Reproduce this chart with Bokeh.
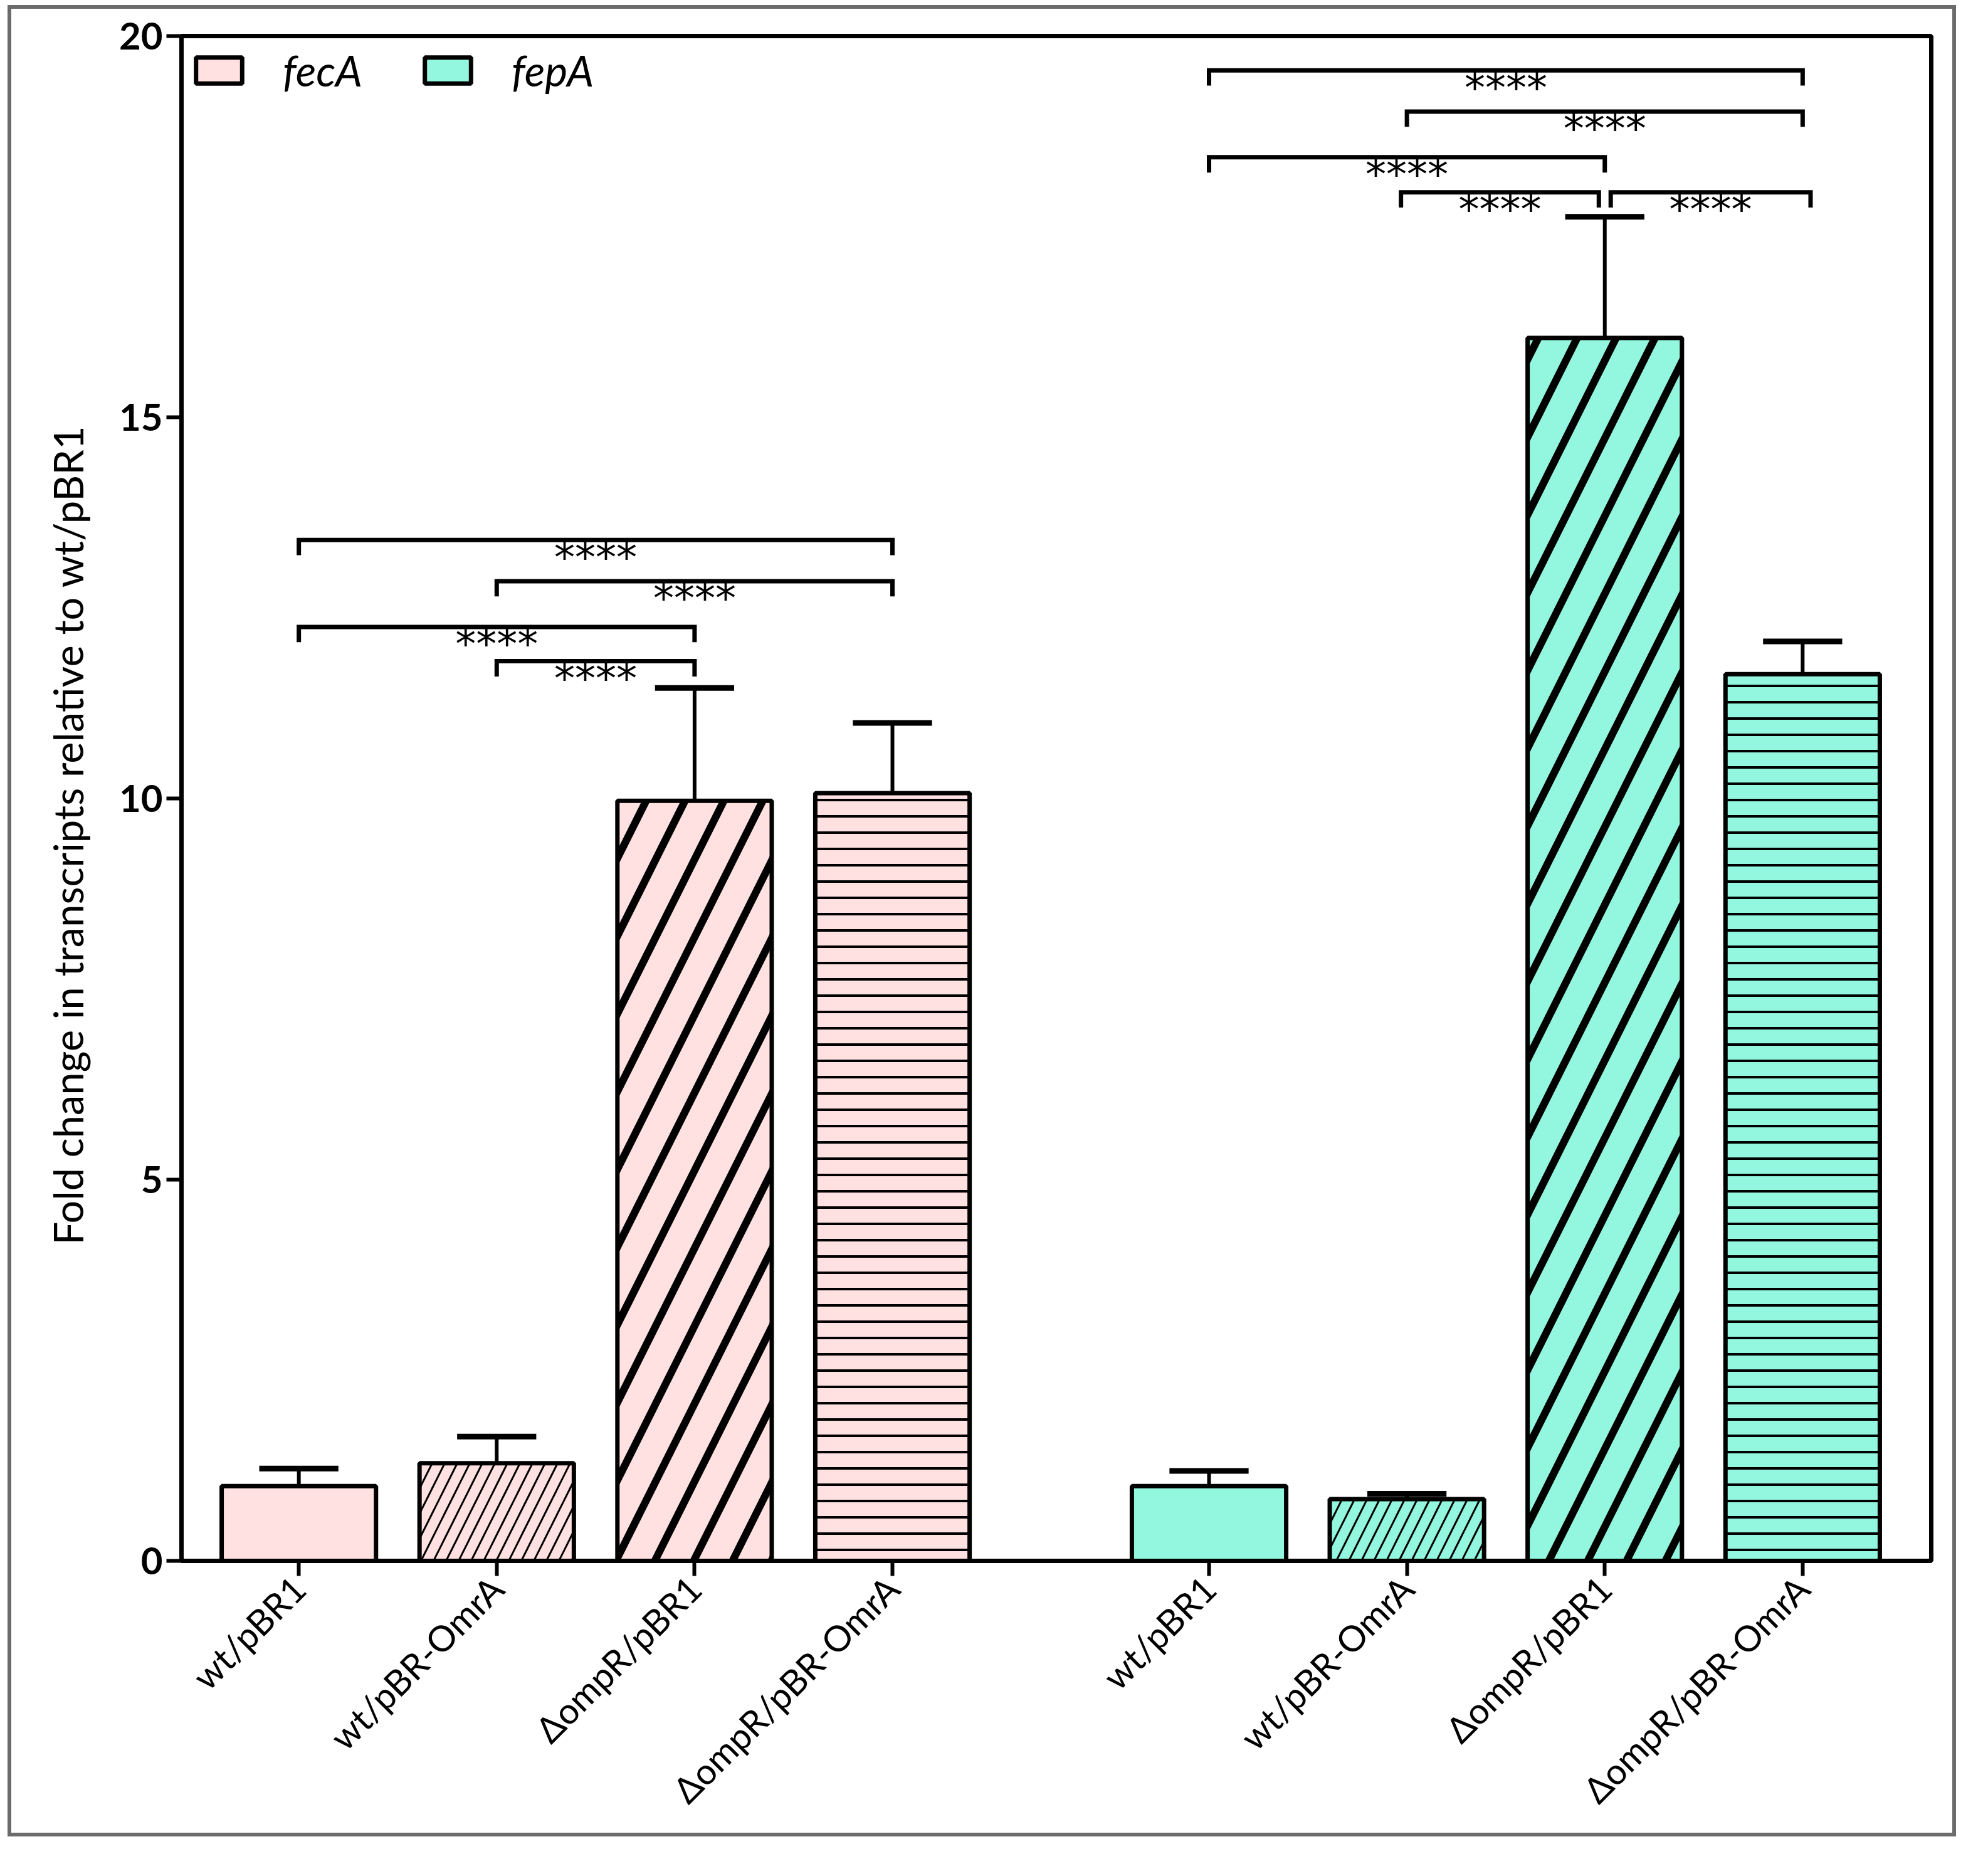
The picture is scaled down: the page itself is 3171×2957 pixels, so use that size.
from math import pi
from bokeh.plotting import figure
from bokeh.models import ColumnDataSource, Range1d, FixedTicker, Legend, LegendItem
from bokeh.core.properties import value
from bokeh.embed import file_html
from bokeh.resources import INLINE

# data
strains = ["wt/pBR1", "wt/pBR-OmrA", "ΔompR/pBR1", "ΔompR/pBR-OmrA"]
fecA_mean = [0.98, 1.28, 9.97, 10.07]
fecA_err = [0.23, 0.35, 1.48, 0.92]
fepA_mean = [0.98, 0.81, 16.04, 11.63]
fepA_err = [0.20, 0.07, 1.59, 0.43]

# significance brackets: (first strain idx, last strain idx, height, label)
fecA_sig = [(0, 3, 13.39, "****"), (1, 3, 12.85, "****"), (0, 2, 12.25, "****"), (1, 2, 11.80, "****")]
fepA_sig = [(0, 3, 19.55, "****"), (1, 3, 19.01, "****"), (0, 2, 18.41, "****"),
            (1, 2, 17.95, "****"), (2, 3, 17.95, "****")]

y_title = "Fold change in transcripts relative to wt/pBR1"

PINK = "#FFE1E1"
CYAN = "#93F7DF"
FONT = "Lato"

group_start = {"fecA": 0.0, "fepA": 4.6}
patterns = [" ", "/", "/", "-"]
hscale = [1, 40, 124, 26]
hweight = [1, 3, 12, 4]

xs, tops, errs, colors, pats, scales, weights, labels = [], [], [], [], [], [], [], []
for gene, means, err, col in [("fecA", fecA_mean, fecA_err, PINK), ("fepA", fepA_mean, fepA_err, CYAN)]:
    for i, s in enumerate(strains):
        xs.append(group_start[gene] + i)
        tops.append(means[i])
        errs.append(err[i])
        colors.append(col)
        pats.append(patterns[i])
        scales.append(hscale[i])
        weights.append(hweight[i])
        labels.append(s)

bars = ColumnDataSource(data=dict(
    x=xs, top=tops, up=[t + e for t, e in zip(tops, errs)],
    cl=[x - 0.2 for x in xs], cr=[x + 0.2 for x in xs],
    color=colors, pat=pats, hs=scales, hw=weights,
))

p = figure(width=3108, height=2921,
           x_range=Range1d(-0.593, 8.25), y_range=Range1d(0, 20),
           output_backend="svg", toolbar_location=None,
           min_border_left=271, min_border_top=43, min_border_right=46, min_border_bottom=446,
           margin=(8, 0, 0, 12),
           styles={"border": "6px solid #6b6b6b"})
p.grid.visible = False
p.outline_line_color = "black"
p.outline_line_width = 7
p.background_fill_color = "white"
p.border_fill_color = "white"

# error bars (upper only)
p.segment(x0="x", y0="top", x1="x", y1="up", source=bars, line_color="black", line_width=6)
p.segment(x0="cl", y0="up", x1="cr", y1="up", source=bars, line_color="black", line_width=9)

r = p.vbar(x="x", top="top", bottom=0, width=0.78, source=bars,
           fill_color="color", line_color="black", line_width=7,
           hatch_pattern="pat", hatch_scale="hs", hatch_weight="hw", hatch_color="black")

# significance brackets
bx, by, tx, ty, tt, tick = [], [], [], [], [], 0.2
for gene, sig in [("fecA", fecA_sig), ("fepA", fepA_sig)]:
    for k, (a, b, h, lab) in enumerate(sig):
        x0 = group_start[gene] + a
        x1 = group_start[gene] + b
        if gene == "fepA" and k == 3:
            x0 -= 0.03
            x1 -= 0.03
        if gene == "fepA" and k == 4:
            x0 += 0.03
            x1 += 0.04
        bx.append([x0, x0, x1, x1])
        by.append([h - tick, h, h, h - tick])
        tx.append((x0 + x1) / 2)
        ty.append(h)
        tt.append(lab)
p.multi_line(xs=bx, ys=by, line_color="black", line_width=7, line_join="miter")
p.text(x=tx, y=ty, text=tt, text_align="center", text_baseline="alphabetic", y_offset=28,
       text_font=value("DejaVu Sans"), text_font_size="66px", text_color="black")

# axes
p.xaxis.ticker = FixedTicker(ticks=xs)
p.xaxis.major_label_overrides = {x: s for x, s in zip(xs, labels)}
p.xaxis.major_label_orientation = pi / 4
p.xaxis.major_label_text_font = FONT
p.xaxis.major_label_text_font_size = "57px"
p.xaxis.major_label_standoff = 10
p.xaxis.minor_tick_line_color = None

p.yaxis.ticker = FixedTicker(ticks=[0, 5, 10, 15, 20])
p.yaxis.minor_tick_line_color = None
p.yaxis.major_label_text_font = FONT
p.yaxis.major_label_text_font_style = "bold"
p.yaxis.major_label_text_font_size = "60px"
p.yaxis.major_label_standoff = 6
# trailing no-break spaces push the title a little below the frame centre, as in the original
p.yaxis.axis_label = y_title + "\u00a0" * 7
p.yaxis.axis_label_text_font = FONT
p.yaxis.axis_label_text_font_style = "normal"
p.yaxis.axis_label_text_font_size = "65px"
p.yaxis.axis_label_standoff = 40

for ax in [p.xaxis, p.yaxis]:
    ax.axis_line_width = 7
    ax.axis_line_color = "black"
    ax.major_tick_line_width = 6
    ax.major_tick_line_color = "black"
    ax.major_tick_out = 24
    ax.major_tick_in = 0
    ax.major_label_text_color = "black"
    ax.axis_label_text_color = "black"

legend = Legend(items=[LegendItem(label="fecA", renderers=[r], index=0),
                       LegendItem(label="fepA", renderers=[r], index=4)],
                location="top_left", orientation="horizontal",
                glyph_width=92, glyph_height=52, label_standoff=56, spacing=90,
                label_text_font=FONT, label_text_font_style="italic", label_text_font_size="68px",
                label_text_color="black",
                border_line_color=None, background_fill_alpha=0, margin=14, padding=16)
p.add_layout(legend)

open("out.html", "w").write(file_html(p, INLINE))
